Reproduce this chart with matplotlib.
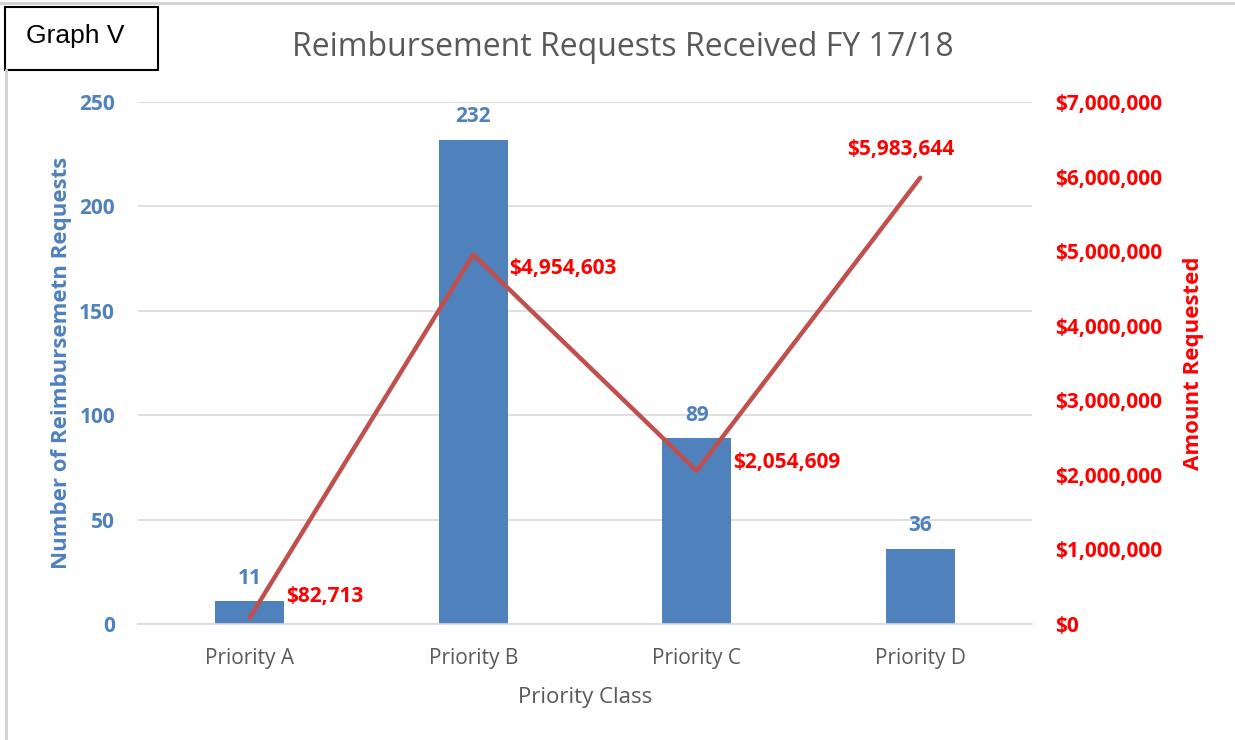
import matplotlib.pyplot as plt
import numpy as np
from matplotlib.lines import Line2D
from matplotlib.patches import Rectangle

categories = ['Priority A', 'Priority B', 'Priority C', 'Priority D']
counts = [11, 232, 89, 36]
amounts = [82713, 4954603, 2054609, 5983644]

blue = '#4F81BD'
red_line = '#C0504D'
red_text = '#FF0000'
gray = '#595959'

plt.rcParams['font.family'] = ['Open Sans', 'DejaVu Sans']

fig = plt.figure(figsize=(12.35, 7.4), dpi=100)
ax = fig.add_axes([0.1117, 0.1568, 0.7239, 0.7054])
ax2 = ax.twinx()

x = np.arange(len(categories))
ax.bar(x, counts, width=0.31, color=blue, zorder=2)
ax2.plot(x, amounts, color=red_line, linewidth=3.2, solid_capstyle='round', zorder=3)

ax.set_xlim(-0.5, 3.5)
ax.set_ylim(0, 250)
ax2.set_ylim(0, 7000000)
ax.set_yticks(range(0, 251, 50))
ax2.set_yticks(range(0, 7000001, 1000000))
ax2.set_yticklabels(['${:,.0f}'.format(v) for v in ax2.get_yticks()])
ax.grid(axis='y', color='#D9D9D9', linewidth=1.2, zorder=0)
ax.set_axisbelow(True)

for a in (ax, ax2):
    for s in a.spines.values():
        s.set_visible(False)
    a.tick_params(length=0)
ax.spines['bottom'].set_visible(True)
ax.spines['bottom'].set_color('#D9D9D9')
ax.spines['bottom'].set_linewidth(1.2)

fs = 15
ax.set_xticks(x)
ax.set_xticklabels(categories, color=gray, fontsize=fs)
ax.tick_params(axis='x', pad=17)
ax.tick_params(axis='y', labelcolor=blue, labelsize=fs, pad=16.5)
for t in ax.get_yticklabels():
    t.set_fontweight('bold')
ax2.tick_params(axis='y', labelcolor=red_text, labelsize=fs, pad=16.5)
for t in ax2.get_yticklabels():
    t.set_fontweight('bold')

ax.set_xlabel('Priority Class', color=gray, fontsize=16, labelpad=13)
ax.set_ylabel('Number of Reimbursemetn Requests', color=blue, fontsize=16,
              fontweight='bold', labelpad=5)
ax2.set_ylabel('Amount Requested', color=red_text, fontsize=16,
               fontweight='bold', labelpad=15)

for xi, c in zip(x, counts):
    ax.annotate(str(c), (xi, c), xytext=(0, 9), textcoords='offset points',
                ha='center', va='bottom', color=blue, fontsize=fs, fontweight='bold')

offsets = [(26, 15), (26, -10), (26, 6), (-14, 20)]
aligns = ['left', 'left', 'left', 'center']
for xi, v, (dx, dy), ha in zip(x, amounts, offsets, aligns):
    ax2.annotate('${:,.0f}'.format(v), (xi, v), xytext=(dx, dy),
                 textcoords='offset points', ha=ha, va='center',
                 color=red_text, fontsize=fs, fontweight='bold')

fig.text(0.504, 0.936, 'Reimbursement Requests Received FY 17/18', ha='center',
         va='center', color=gray, fontsize=23)

# "Graph V" box and page border
fig.patches.append(Rectangle((5 / 1235, 1 - 70 / 740), 153 / 1235, 63 / 740,
                             transform=fig.transFigure, fill=False,
                             edgecolor='black', linewidth=1.5))
fig.text(75 / 1235, 1 - 36 / 740, 'Graph V', ha='center', va='center',
         fontsize=19, family='Liberation Sans', color='black')
fig.lines.append(Line2D([0, 1], [1 - 3 / 740] * 2, transform=fig.transFigure,
                        color='#D0D0D0', linewidth=2))
fig.lines.append(Line2D([6 / 1235] * 2, [0, 1 - 70 / 740], transform=fig.transFigure,
                        color='#D0D0D0', linewidth=2))

fig.savefig('out.png', dpi=100)
